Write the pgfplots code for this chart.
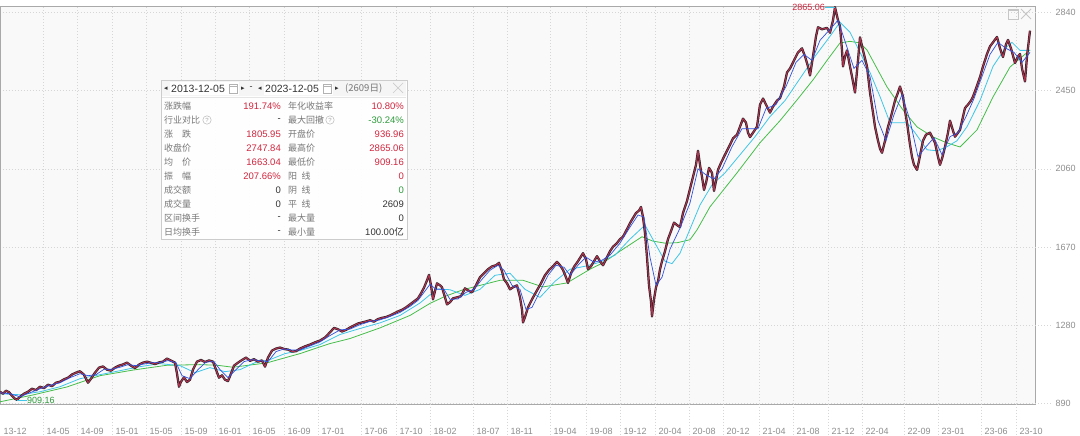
\documentclass[border=0pt]{standalone}
\usepackage{fontspec}
\setmainfont{Liberation Sans}
\newfontfamily\cjk{Noto Sans CJK SC}
\newfontfamily\sym{DejaVu Sans}
\usepackage{pgfplots}
\pgfplotsset{compat=1.18}
\usepackage{pgfplotstable}

\definecolor{boxbg}{HTML}{F9F9F9}
\definecolor{frame}{HTML}{A9A9A9}
\definecolor{gridc}{HTML}{D6D6D6}
\definecolor{ticktxt}{HTML}{8E8E8E}
\definecolor{upred}{HTML}{D0263E}
\definecolor{dngreen}{HTML}{2E9B3C}
\definecolor{candle}{HTML}{33232B}
\definecolor{candlered}{HTML}{B8324F}
\definecolor{maB}{HTML}{2F4FE0}
\definecolor{maC}{HTML}{3FC6E8}
\definecolor{maG}{HTML}{46BE4A}
\definecolor{lbl}{HTML}{777777}
\definecolor{val}{HTML}{333333}

% close price, x = position along the trading-day axis
\pgfplotstableread{
x v
0 950
3 940
6 955
9 948
12 930
15 915
17 910
20 925
24 940
28 950
32 965
36 958
40 975
44 968
48 985
52 978
56 995
60 1000
64 1012
68 1020
72 1036
76 1045
80 1052
84 1035
88 995
91 1015
95 1045
99 1070
103 1076
107 1060
111 1055
115 1070
119 1080
123 1086
127 1095
131 1080
135 1068
139 1085
143 1095
147 1100
151 1094
155 1088
159 1096
163 1100
167 1115
171 1105
175 1095
177 1040
179 975
181 1000
184 1022
187 998
190 1010
193 1060
197 1100
201 1108
205 1098
209 1106
213 1100
216 1060
219 1020
222 1032
225 1010
228 1003
231 1040
234 1080
238 1095
242 1108
246 1120
250 1104
254 1112
258 1100
262 1106
265 1075
268 1120
272 1155
276 1165
280 1170
284 1163
288 1160
292 1150
296 1152
300 1165
305 1176
310 1185
315 1196
320 1205
325 1220
330 1246
334 1268
338 1261
342 1250
346 1258
350 1270
354 1280
358 1290
362 1295
366 1300
370 1306
374 1299
378 1312
382 1318
386 1322
390 1330
394 1340
398 1350
402 1358
406 1370
410 1385
414 1400
418 1415
421 1440
424 1468
427 1505
429 1532
431 1480
433 1410
435 1452
437 1490
440 1480
442 1470
445 1420
447 1385
450 1396
453 1415
457 1420
461 1426
465 1465
468 1455
472 1445
476 1480
480 1520
484 1540
488 1560
492 1574
496 1580
499 1592
502 1550
504 1510
507 1490
510 1460
513 1470
517 1480
520 1420
522 1360
523 1295
525 1322
528 1370
532 1410
537 1455
541 1490
545 1530
549 1556
553 1575
557 1597
560 1580
563 1557
566 1520
568 1492
571 1540
574 1572
578 1600
583 1640
586 1610
588 1560
591 1575
594 1600
597 1625
600 1600
603 1580
606 1610
610 1650
613 1672
617 1690
620 1710
623 1722
627 1760
630 1790
633 1815
636 1840
639 1852
641 1870
643 1820
645 1740
647 1620
649 1480
651 1400
652 1325
654 1410
656 1470
658 1500
660 1560
662 1600
665 1650
668 1710
671 1750
674 1792
677 1780
680 1770
683 1840
687 1900
690 1960
693 2020
696 2080
698 2150
700 2080
702 2020
704 1955
706 1990
709 2065
712 2040
714 1950
716 2000
718 2055
721 2090
724 2120
727 2150
730 2180
733 2212
737 2230
740 2270
743 2310
746 2290
748 2240
750 2218
753 2240
757 2270
760 2380
763 2410
766 2380
770 2340
773 2370
777 2400
780 2412
784 2470
787 2540
790 2560
794 2600
798 2640
802 2660
805 2620
808 2570
810 2525
813 2620
816 2720
818 2765
822 2755
827 2762
830 2738
833 2800
835 2865
838 2800
840 2770
842 2650
843 2570
845 2620
847 2650
850 2570
852 2520
855 2440
858 2600
860 2715
863 2650
867 2570
870 2440
873 2340
875 2270
878 2200
880 2160
882 2140
885 2200
888 2270
891 2320
895 2400
898 2440
900 2470
903 2420
905 2350
907 2290
910 2180
912 2120
914 2080
917 2055
919 2100
921 2150
923 2200
926 2230
930 2240
933 2210
935 2190
938 2120
940 2080
942 2110
945 2170
948 2240
950 2300
953 2250
955 2220
958 2240
960 2254
963 2320
965 2363
968 2380
971 2400
973 2420
976 2460
980 2517
983 2570
987 2632
990 2670
993 2690
997 2717
1000 2660
1003 2617
1006 2680
1008 2702
1011 2660
1015 2587
1018 2620
1020 2632
1022 2560
1025 2495
1027 2620
1030 2748
}\price

% short moving average (blue)
\pgfplotstableread{
x v
0 945
10 940
20 925
30 945
40 965
50 982
60 995
70 1020
80 1040
88 1030
96 1035
104 1062
112 1062
120 1072
128 1085
136 1080
144 1088
152 1095
160 1095
168 1105
176 1095
182 1030
190 1015
198 1060
206 1098
214 1100
220 1060
228 1020
236 1060
244 1100
252 1110
260 1105
268 1100
276 1150
284 1163
292 1158
300 1158
310 1178
320 1198
330 1230
340 1258
350 1262
360 1284
370 1300
380 1308
390 1325
400 1345
410 1375
418 1405
424 1445
430 1485
436 1460
444 1460
450 1410
458 1412
466 1445
474 1460
482 1510
490 1555
498 1580
504 1555
512 1480
520 1460
526 1360
532 1370
540 1450
548 1530
556 1580
564 1570
570 1530
578 1580
586 1620
594 1595
602 1605
610 1630
620 1690
630 1770
638 1830
644 1820
650 1620
656 1480
662 1520
670 1660
680 1765
690 1890
698 2060
706 2030
714 2010
722 2060
732 2170
742 2260
750 2260
758 2260
766 2360
776 2380
786 2470
796 2590
804 2630
812 2600
820 2700
830 2755
838 2800
846 2680
854 2560
862 2600
870 2520
878 2300
886 2200
894 2330
902 2430
910 2300
918 2120
926 2170
934 2215
942 2130
950 2220
958 2240
966 2320
974 2410
982 2520
990 2630
998 2690
1006 2660
1014 2640
1022 2590
1030 2640
}\maB

% medium moving average (cyan)
\pgfplotstableread{
x v
0 940
20 935
40 950
60 975
80 1015
100 1035
120 1055
140 1075
160 1090
180 1080
195 1045
210 1070
225 1050
240 1060
255 1095
270 1110
285 1140
300 1155
320 1185
340 1235
360 1265
380 1293
400 1330
420 1392
437 1462
450 1458
465 1430
480 1460
495 1530
510 1540
525 1460
540 1420
555 1500
570 1560
585 1575
600 1595
615 1630
630 1710
645 1780
655 1690
665 1600
672 1588
680 1640
690 1760
700 1880
712 1980
725 2040
740 2130
755 2220
770 2320
785 2400
800 2510
815 2620
830 2720
840 2790
850 2740
860 2640
870 2540
880 2420
890 2290
900 2290
907 2290
915 2240
927 2155
937 2150
947 2170
957 2200
967 2270
980 2400
993 2570
1005 2660
1012 2690
1020 2650
1030 2650
}\maC

% long moving average (green)
\pgfplotstableread{
x v
0 900
33 934
67 974
100 1030
133 1058
167 1082
200 1085
217 1082
233 1072
267 1094
300 1140
330 1190
350 1215
380 1268
410 1330
430 1390
445 1425
463 1458
500 1505
523 1505
543 1472
567 1492
590 1560
603 1592
620 1650
642 1722
653 1700
665 1690
677 1692
690 1707
697 1756
710 1871
737 2040
760 2190
780 2300
797 2403
813 2503
827 2600
840 2687
850 2695
860 2687
867 2652
877 2560
887 2468
903 2353
917 2269
933 2219
947 2189
960 2169
977 2254
993 2418
1010 2567
1030 2652
}\maG

\begin{document}
\begin{tikzpicture}
\path[use as bounding box, fill=white] (0pt,-32pt) rectangle (1080pt,404pt);
\begin{axis}[
    at={(0pt,0pt)}, anchor=south west,
    scale only axis, width=1035pt, height=398pt,
    xmin=0, xmax=1035, ymin=889, ymax=2871,
    axis background/.style={fill=boxbg},
    axis line style={frame, line width=0.8pt},
    clip mode=individual,
    xtick={0,43,77,112,146,181,215,249,284,318,361,396,430,473,507,550,586,620,655,689,723,759,793,828,862,904,938,981,1016},
    xticklabels={13-12,14-05,14-09,15-01,15-05,15-09,16-01,16-05,16-09,17-01,17-06,17-10,18-02,18-07,18-11,19-04,19-08,19-12,20-04,20-08,20-12,21-04,21-08,21-12,22-04,22-09,23-01,23-06,23-10},
    ytick={890,1280,1670,2060,2450,2840},
    grid=major,
    major grid style={gridc, line width=0.6pt, dash pattern=on 1pt off 2pt},
    major tick length=0pt,
    yticklabel pos=right,
    xticklabel style={anchor=base west, yshift=-31pt, font=\fontsize{9}{10}\selectfont, text=ticktxt},
    yticklabel style={anchor=west, xshift=17pt, font=\fontsize{9}{10}\selectfont, text=ticktxt},
    /pgf/number format/assume math mode=true,
    /pgf/number format/1000 sep={},
]
\addplot[maG, line width=0.8pt] table[x=x, y=v] {\maG};
\addplot[maC, line width=0.8pt] table[x=x, y=v] {\maC};
\addplot[candle, line width=2.3pt, line join=round] table[x=x, y=v] {\price};
\addplot[candlered, line width=0.9pt, line join=round] table[x=x, y=v] {\price};
\addplot[maB, line width=0.7pt] table[x=x, y=v] {\maB};

% grid lines running on past the frame
\pgfplotsinvokeforeach{43,77,112,146,181,215,249,284,318,361,396,430,473,507,550,586,620,655,689,723,759,793,828,862,904,938,981,1016}{
  \draw[gridc, line width=0.6pt, dash pattern=on 1pt off 2pt] (axis cs:#1,889) -- ++(0pt,-32pt);
}
\pgfplotsinvokeforeach{890,1280,1670,2060,2450,2840}{
  \draw[gridc, line width=0.6pt, dash pattern=on 1pt off 2pt] (axis cs:1035,#1) -- ++(17pt,0pt);
}

% high / low markers
\draw[maC, line width=0.6pt] (axis cs:825,2865) -- (axis cs:835,2865);
\node[anchor=east, inner sep=0pt, text=upred, font=\fontsize{9}{10}\selectfont] at (axis cs:825,2864) {2865.06};
\draw[maC, line width=0.6pt] (axis cs:17,909) -- (axis cs:27,909);
\node[anchor=west, inner sep=0pt, text=dngreen, font=\fontsize{9}{10}\selectfont] at (axis cs:27,909) {909.16};
\end{axis}

% window icons and the statistics panel, in image pixels (y down)
\begin{scope}[x=1pt, y=-1pt, shift={(0pt,404pt)}]
\draw[gray!45, line width=0.8pt] (1008,9) rectangle (1018,19);
\draw[gray!45, line width=2pt] (1008,10) -- (1018,10);
\draw[gray!45, line width=0.9pt] (1021,9) -- (1031,19) (1021,19) -- (1031,9);

\fill[white, opacity=0.93] (161,80) rectangle (407,239);
\draw[gray!40, line width=0.6pt] (161,80) rectangle (407,239);
\fill[gray!8] (162,81) rectangle (406,96);
\fill[white] (170,82) rectangle (239,95);
\fill[white] (264,82) rectangle (333,95);
\draw[gray!20, line width=0.5pt] (162,97) -- (406,97);

\begin{scope}[every node/.style={inner sep=0pt}]
\node[anchor=center, text=val, font=\sym\fontsize{7}{8}\selectfont] at (166,88.5) {◂};
\node[anchor=west, text=val, font=\fontsize{10.5}{11}\selectfont] at (171,88.5) {2013-12-05};
\draw[gray!60, line width=0.5pt] (229,84) rectangle (237,93) (229,86) -- (237,86);
\node[anchor=center, text=val, font=\sym\fontsize{7}{8}\selectfont] at (243,88.5) {▸};
\node[anchor=center, text=val, font=\fontsize{9}{10}\selectfont] at (251,88.5) {-};
\node[anchor=center, text=val, font=\sym\fontsize{7}{8}\selectfont] at (260,88.5) {◂};
\node[anchor=west, text=val, font=\fontsize{10.5}{11}\selectfont] at (265,88.5) {2023-12-05};
\draw[gray!60, line width=0.5pt] (323,84) rectangle (331,93) (323,86) -- (331,86);
\node[anchor=center, text=val, font=\sym\fontsize{7}{8}\selectfont] at (337,88.5) {▸};
\node[anchor=west, text=lbl, font=\cjk\fontsize{9.5}{10}\selectfont] at (345,88.5) {(2609日)};
\draw[gray!40, line width=0.7pt] (393,83) -- (403,93) (393,93) -- (403,83);

\foreach \lab/\v/\c/\rlab/\rv/\rc [count=\i from 0] in {
  涨跌幅/191.74\%/upred/年化收益率/10.80\%/upred,
  行业对比/-/val/最大回撤/-30.24\%/dngreen,
  涨\hspace{1em}跌/1805.95/upred/开盘价/936.96/upred,
  收盘价/2747.84/upred/最高价/2865.06/upred,
  均\hspace{1em}价/1663.04/upred/最低价/909.16/upred,
  振\hspace{1em}幅/207.66\%/upred/阳\hspace{0.5em}线/0/upred,
  成交额/0/val/阴\hspace{0.5em}线/0/dngreen,
  成交量/0/val/平\hspace{0.5em}线/2609/val,
  区间换手/-/val/最大量/0/val,
  日均换手/-/val/最小量/{100.00\cjk 亿}/val}{
  \pgfmathsetmacro\yy{106+14*\i}
  \node[anchor=west, text=lbl, font=\cjk\fontsize{9}{10}\selectfont] at (164,\yy) {\lab};
  \node[anchor=east, text=\c, font=\fontsize{9.5}{10}\selectfont] at (281,\yy) {\v};
  \node[anchor=west, text=lbl, font=\cjk\fontsize{9}{10}\selectfont] at (288,\yy) {\rlab};
  \node[anchor=east, text=\rc, font=\fontsize{9.5}{10}\selectfont] at (404,\yy) {\rv};
}
\draw[gray!55, line width=0.5pt] (207,120) circle (4.2);
\node[text=gray!70, font=\fontsize{6}{7}\selectfont] at (207,120) {?};
\draw[gray!55, line width=0.5pt] (330,120) circle (4.2);
\node[text=gray!70, font=\fontsize{6}{7}\selectfont] at (330,120) {?};
\end{scope}
\end{scope}
\end{tikzpicture}
\end{document}
